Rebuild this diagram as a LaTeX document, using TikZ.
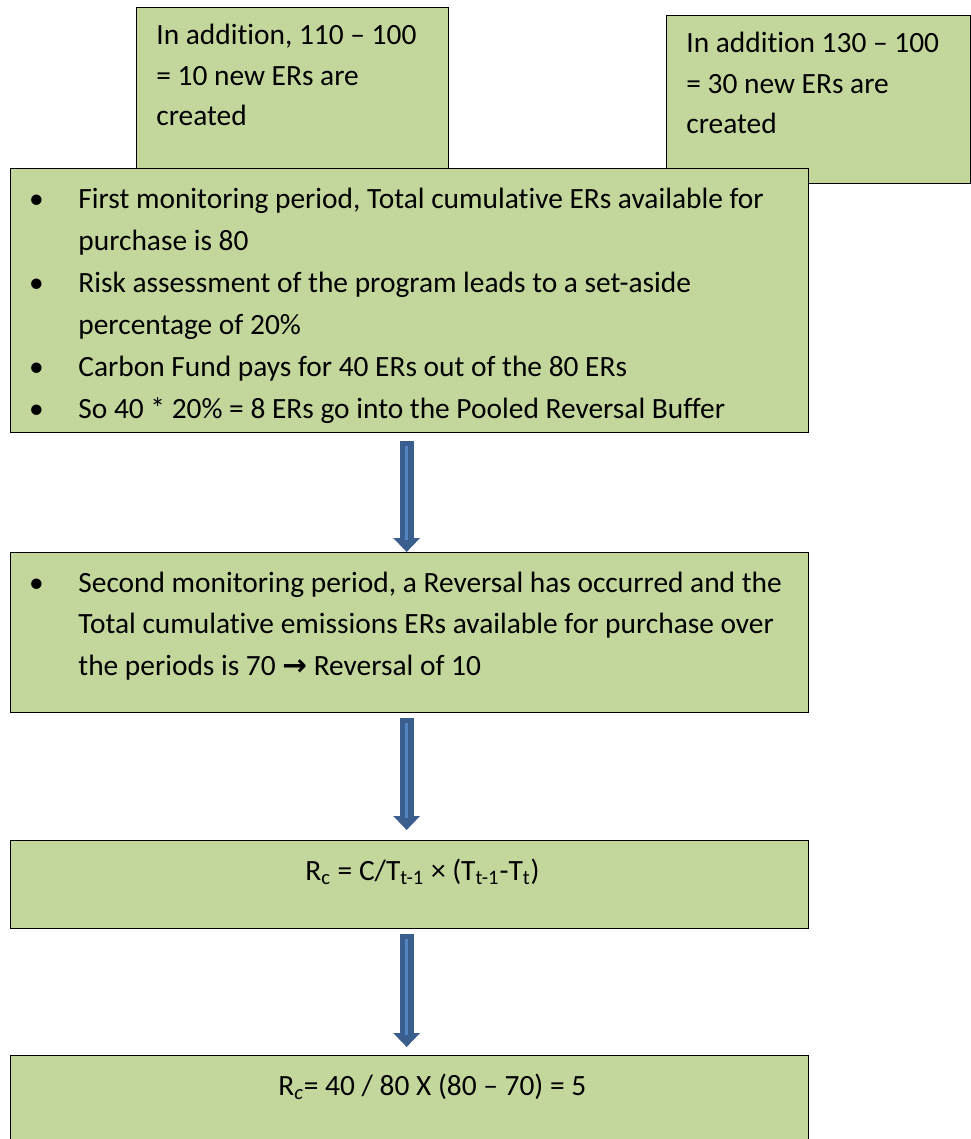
\documentclass[tikz,border=0pt]{standalone}
\usepackage{fontspec}
\setmainfont[Ligatures={NoCommon}]{Carlito}
\newfontfamily\symfont{DejaVu Sans}
\usetikzlibrary{arrows.meta}
\definecolor{boxgreen}{RGB}{195,214,155}
\definecolor{arrowblue}{RGB}{58,95,143}
\definecolor{arrowlight}{RGB}{86,132,192}
\newcommand{\bulletline}{\noindent\llap{\makebox[42pt][c]{\textbullet}}}
\newcommand{\boxfont}[1]{\fontsize{14.7}{#1}\selectfont}

\begin{document}
\begin{tikzpicture}[x=0.5pt,y=-0.5pt,
  box/.style={draw=black, line width=0.65pt, fill=boxgreen, inner sep=0pt, anchor=north west},
  txt/.style={anchor=base west, inner sep=0pt, text width=380pt, align=flush left, font=\boxfont{20.9pt}},
  blockarrow/.style={draw=arrowblue, line width=7pt, -{Triangle[width=13pt,length=7pt]}},
  highlight/.style={draw=arrowlight, line width=1.3pt}]
  \useasboundingbox (0,0) rectangle (970,1139);
  % top boxes, partly covered by the first period box
  \node[box, minimum width=156pt, minimum height=84pt] (addleft) at (136,7) {};
  \node[box, minimum width=152pt, minimum height=84pt] (addright) at (666,15) {};
  \node[txt, font=\boxfont{20.25pt}] (addlefttxt) at (156,45)
    {In addition, 110 -- 100\\= 10 new ERs are\\created};
  \node[txt, font=\boxfont{20.25pt}] (addrighttxt) at (686,53)
    {In addition 130 -- 100\\= 30 new ERs are\\created};
  % monitoring periods
  \node[box, minimum width=399pt, minimum height=132pt] (firstperiod) at (10,168) {};
  \node[txt] (firstperiodtxt) at (78,209)
    {\bulletline First monitoring period, Total cumulative ERs available for\\purchase is 80\par
     \bulletline Risk assessment of the program leads to a set-aside\\percentage of 20\%\par
     \bulletline Carbon Fund pays for 40 ERs out of the 80 ERs\par
     \bulletline So 40 * 20\% = 8 ERs go into the Pooled Reversal Buffer};
  \node[box, minimum width=399pt, minimum height=80pt] (secondperiod) at (10,552) {};
  \node[txt] (secondperiodtxt) at (78,592)
    {\bulletline Second monitoring period, a Reversal has occurred and the\\Total cumulative emissions ERs available for purchase over\\the periods is 70 {\symfont\bfseries →} Reversal of 10};
  % formula and result
  \node[box, minimum width=399pt, minimum height=44pt] (formula) at (10,840) {};
  \node[txt] (formulatxt) at (305,880)
    {R\textsubscript{c} = C/T\textsubscript{t-1} × (T\textsubscript{t-1}-T\textsubscript{t})};
  \node[box, minimum width=399pt, minimum height=47.5pt] (result) at (10,1055) {};
  \node[txt] (resulttxt) at (278,1095)
    {R\textsubscript{\textit{c}}= 40 / 80 X (80 -- 70) = 5};
  % arrows
  \draw[blockarrow, shorten <=4pt] ([xshift=-1.5pt]firstperiod.south) -- ([xshift=-1.5pt]secondperiod.north);
  \draw[highlight, shorten <=6.5pt, shorten >=6pt] ([xshift=-1.5pt]firstperiod.south) -- ([xshift=-1.5pt]secondperiod.north);
  \draw[blockarrow, shorten <=2.5pt, shorten >=5pt] ([xshift=-1.5pt]secondperiod.south) -- ([xshift=-1.5pt]formula.north);
  \draw[highlight, shorten <=5pt, shorten >=11pt] ([xshift=-1.5pt]secondperiod.south) -- ([xshift=-1.5pt]formula.north);
  \draw[blockarrow, shorten <=2.5pt, shorten >=4pt] ([xshift=-1.5pt]formula.south) -- ([xshift=-1.5pt]result.north);
  \draw[highlight, shorten <=5pt, shorten >=10pt] ([xshift=-1.5pt]formula.south) -- ([xshift=-1.5pt]result.north);
\end{tikzpicture}
\end{document}
